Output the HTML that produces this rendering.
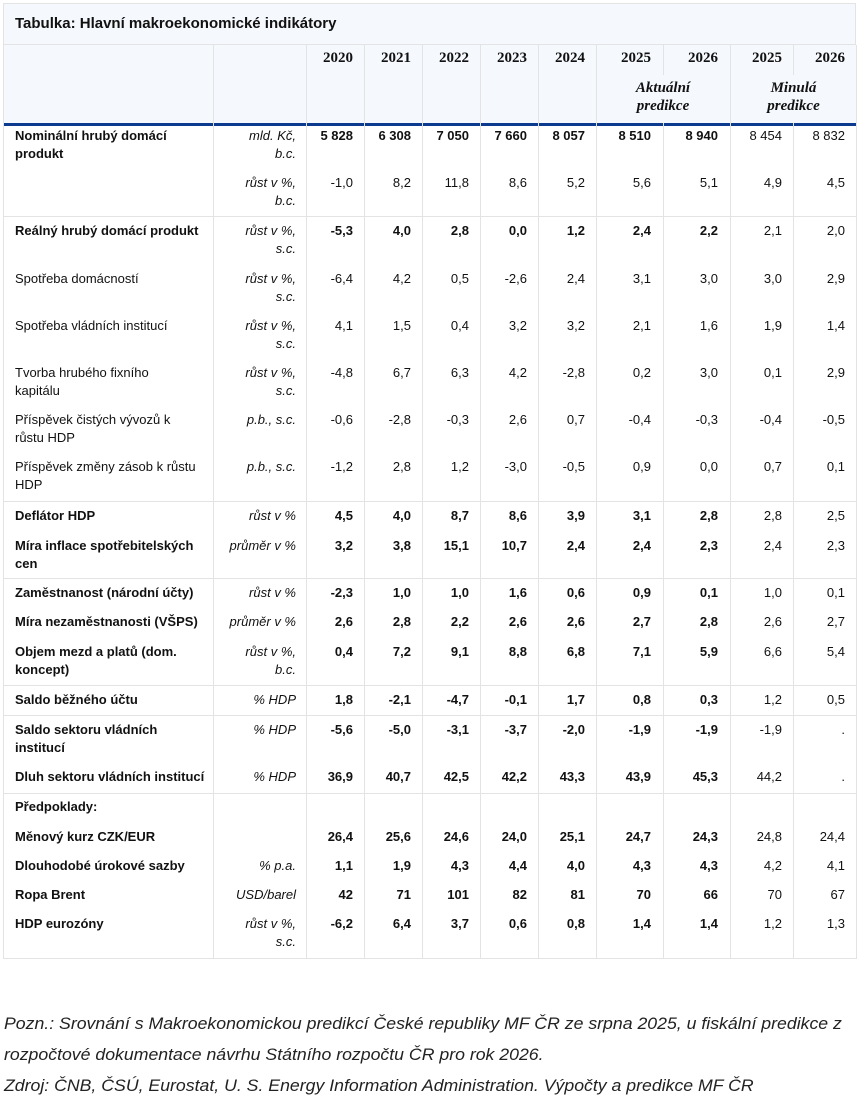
<!DOCTYPE html>
<html><head><meta charset="utf-8">
<style>
body{margin:0;width:857px;height:1108px;background:#fff;position:relative;font-family:"Liberation Sans",sans-serif;color:#111;overflow:hidden}
.a{position:absolute}
.t{position:absolute;font-size:13px;line-height:18px;white-space:nowrap}
.r{text-align:right}
.b{font-weight:bold}
.i{font-style:italic}
.hl{position:absolute;height:1px;background:#e3e3e3}
.vl{position:absolute;width:1px;background:#e3e3e3}
.yr{position:absolute;font-family:"Liberation Serif",serif;font-weight:bold;font-size:15px;text-align:right}
.foot{position:absolute;left:4px;font-style:italic;font-size:17px;white-space:nowrap;transform-origin:left top;color:#222}
</style></head><body>
<div class="a" style="left:3px;top:3px;width:853px;height:42px;background:#f5f8fc;border:1px solid #e3e3e3;box-sizing:border-box"></div>
<div class="a b" style="left:15px;top:15px;font-size:15px">Tabulka: Hlavní makroekonomické indikátory</div>
<div class="a" style="left:3px;top:45px;width:854px;height:78px;background:#f5f8fc"></div>
<div class="a" style="left:3px;top:123px;width:854px;height:3px;background:#0b3a8f"></div>
<div id="root"></div>
<div class="foot" style="top:1014px">Pozn.: Srovnání s Makroekonomickou predikcí České republiky MF ČR ze srpna 2025, u fiskální predikce z</div>
<div class="foot" style="top:1045px">rozpočtové dokumentace návrhu Státního rozpočtu ČR pro rok 2026.</div>
<div class="foot" style="top:1076px">Zdroj: ČNB, ČSÚ, Eurostat, U. S. Energy Information Administration. Výpočty a predikce MF ČR</div>
<script>
const years=["2020","2021","2022","2023","2024","2025","2026","2025","2026"];
const colRight=[353,411,469,527,585,651,718,782,845];
const colLines=[213,306,364,422,480,538,596,663,730,793];
const labels=["Nominální hrubý domácí|produkt","","Reálný hrubý domácí produkt","Spotřeba domácností","Spotřeba vládních institucí","Tvorba hrubého fixního|kapitálu","Příspěvek čistých vývozů k|růstu HDP","Příspěvek změny zásob k růstu|HDP","Deflátor HDP","Míra inflace spotřebitelských|cen","Zaměstnanost (národní účty)","Míra nezaměstnanosti (VŠPS)","Objem mezd a platů (dom.|koncept)","Saldo běžného účtu","Saldo sektoru vládních|institucí","Dluh sektoru vládních institucí","Předpoklady:","Měnový kurz CZK/EUR","Dlouhodobé úrokové sazby","Ropa Brent","HDP eurozóny"];
const units=["mld. Kč,|b.c.","růst v %,|b.c.","růst v %,|s.c.","růst v %,|s.c.","růst v %,|s.c.","růst v %,|s.c.","p.b., s.c.","p.b., s.c.","růst v %","průměr v %","růst v %","průměr v %","růst v %,|b.c.","% HDP","% HDP","% HDP","","","% p.a.","USD/barel","růst v %,|s.c."];
const boldRow=[1,0,1,0,0,0,0,0,1,1,1,1,1,1,1,1,1,1,1,1,1];
const values=[
["5 828","6 308","7 050","7 660","8 057","8 510","8 940","8 454","8 832"],
["-1,0","8,2","11,8","8,6","5,2","5,6","5,1","4,9","4,5"],
["-5,3","4,0","2,8","0,0","1,2","2,4","2,2","2,1","2,0"],
["-6,4","4,2","0,5","-2,6","2,4","3,1","3,0","3,0","2,9"],
["4,1","1,5","0,4","3,2","3,2","2,1","1,6","1,9","1,4"],
["-4,8","6,7","6,3","4,2","-2,8","0,2","3,0","0,1","2,9"],
["-0,6","-2,8","-0,3","2,6","0,7","-0,4","-0,3","-0,4","-0,5"],
["-1,2","2,8","1,2","-3,0","-0,5","0,9","0,0","0,7","0,1"],
["4,5","4,0","8,7","8,6","3,9","3,1","2,8","2,8","2,5"],
["3,2","3,8","15,1","10,7","2,4","2,4","2,3","2,4","2,3"],
["-2,3","1,0","1,0","1,6","0,6","0,9","0,1","1,0","0,1"],
["2,6","2,8","2,2","2,6","2,6","2,7","2,8","2,6","2,7"],
["0,4","7,2","9,1","8,8","6,8","7,1","5,9","6,6","5,4"],
["1,8","-2,1","-4,7","-0,1","1,7","0,8","0,3","1,2","0,5"],
["-5,6","-5,0","-3,1","-3,7","-2,0","-1,9","-1,9","-1,9","."],
["36,9","40,7","42,5","42,2","43,3","43,9","45,3","44,2","."],
["","","","","","","","",""],
["26,4","25,6","24,6","24,0","25,1","24,7","24,3","24,8","24,4"],
["1,1","1,9","4,3","4,4","4,0","4,3","4,3","4,2","4,1"],
["42","71","101","82","81","70","66","70","67"],
["-6,2","6,4","3,7","0,6","0,8","1,4","1,4","1,2","1,3"]];
const rowTop=[127,174,222,270,317,364,411,458,507,537,584,613,643,691,721,768,798,828,857,886,915];
const seps=[216,501,578,685,715,793,958];
const root=document.getElementById('root');
function add(cls,style,text){const d=document.createElement('div');d.className=cls;d.style.cssText=style;if(text!==undefined)d.innerHTML=text;root.appendChild(d);return d;}
colLines.forEach((x,k)=>{const el=add('vl','left:'+x+'px;top:45px;height:913px');

});
const b1=add('vl','left:3px;top:45px;height:913px');


const b2=add('vl','left:856px;top:45px;height:913px');


seps.forEach(y=>{const el=add('hl','left:3px;width:854px;top:'+y+'px');

});
[663,793].forEach(x=>{const el=add('a','left:'+x+'px;top:75px;width:1px;height:48px;background:#f5f8fc');

});
years.forEach((y,k)=>{const el=add('yr','left:'+(colRight[k]-60)+'px;width:60px;top:50px',y);

});
const g1=add('a','left:596px;width:134px;top:79px;text-align:center;font-family:\'Liberation Serif\',serif;font-weight:bold;font-style:italic;font-size:15px;line-height:18px','Aktuální<br>predikce');


const g2=add('a','left:730px;width:127px;top:79px;text-align:center;font-family:\'Liberation Serif\',serif;font-weight:bold;font-style:italic;font-size:15px;line-height:18px','Minulá<br>predikce');


labels.forEach((lab,r)=>{
  const top=rowTop[r];
  if(lab){const el=add('t'+(boldRow[r]?' b':''),'left:15px;top:'+top+'px',lab.split('|').join('<br>'));
  
  }
  if(units[r]){const el=add('t i r','left:196px;width:100px;top:'+top+'px',units[r].split('|').join('<br>'));
  
  }
  values[r].forEach((v,k)=>{ if(!v)return;
    const bold=boldRow[r]&&k<7;
    const el=add('t r'+(bold?' b':''),'left:'+(colRight[k]-60)+'px;width:60px;top:'+top+'px',v);
    
    
  });
});
document.querySelectorAll('.foot').forEach(f=>{f.style.transform='scaleX(1.04)';});
</script>
</body></html>
